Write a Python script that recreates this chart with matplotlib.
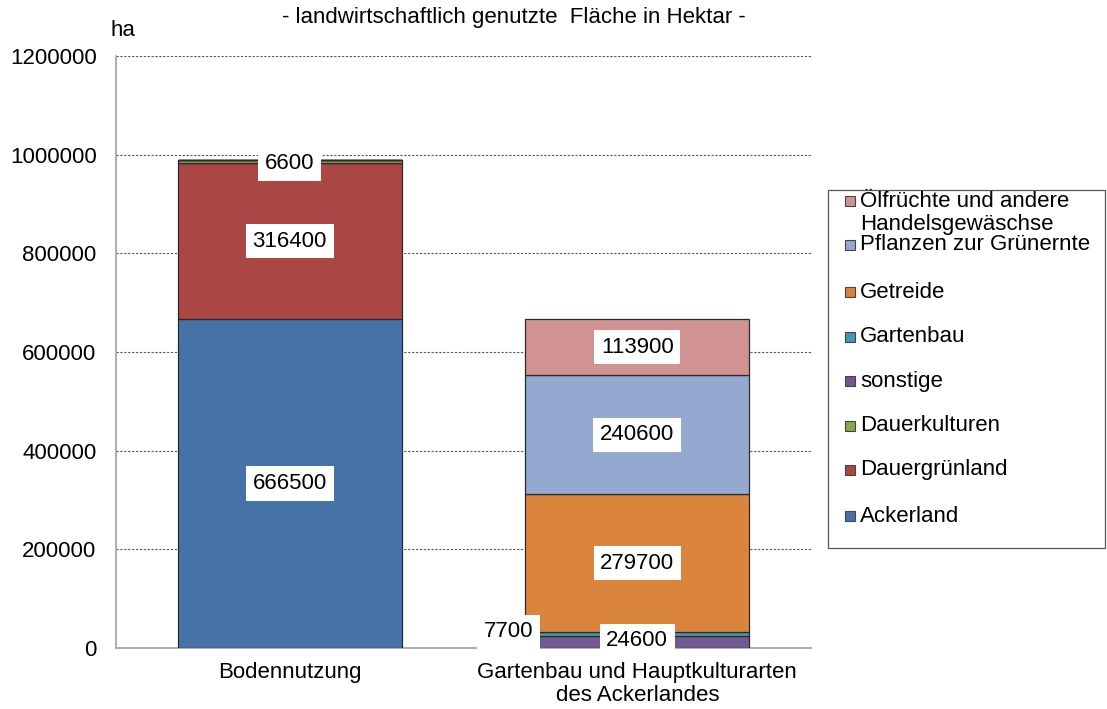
import numpy as np
import matplotlib.pyplot as plt
from matplotlib.patches import Rectangle

plt.rcParams['font.family'] = ['Liberation Sans', 'DejaVu Sans']

# categories (x axis)
categories = ["Bodennutzung", "Gartenbau und Hauptkulturarten\ndes Ackerlandes"]

# series, bottom to top; value per category
series_names = ["Ackerland", "Dauergrünland", "Dauerkulturen",
                "sonstige", "Gartenbau", "Getreide",
                "Pflanzen zur Grünernte", "Ölfrüchte und andere\nHandelsgewäschse"]
series_values = [
    [666500, 0],
    [316400, 0],
    [6600, 0],
    [0, 24600],
    [0, 7700],
    [0, 279700],
    [0, 240600],
    [0, 113900],
]
colors = ["#4572A7", "#AA4643", "#89A54E", "#71588F",
          "#4198AF", "#DB843D", "#93A9CF", "#D19392"]

# legend order top to bottom
legend_order = [7, 6, 5, 4, 3, 2, 1, 0]

fig = plt.figure(figsize=(11.07, 7.09), dpi=100)
ax = fig.add_axes([116 / 1107, 1 - 648 / 709, 695 / 1107, 592 / 709])

x = np.arange(len(categories))
width = 0.645
bottom = np.zeros(len(categories))
bars = []
for name, vals, c in zip(series_names, series_values, colors):
    vals = np.array(vals, dtype=float)
    ax.bar(x, vals, width, bottom=bottom, color=c, edgecolor="#2a2a2a",
           linewidth=0.9, zorder=3)
    bars.append((vals, bottom.copy()))
    bottom += vals

box = dict(boxstyle="square,pad=0.3", facecolor="white", edgecolor="none")
fs = 16

def label(xp, yp, v):
    ax.text(xp, yp, f"{v}", ha="center", va="center", fontsize=fs, bbox=box, zorder=5)

# Bodennutzung labels
vals, bot = bars[0]
label(0, bot[0] + vals[0] / 2, int(vals[0]))
vals, bot = bars[1]
label(0, bot[0] + vals[0] / 2, int(vals[0]))
vals, bot = bars[2]
label(0, bot[0] + vals[0] / 2 - 5000, int(vals[0]))

# second bar labels
vals, bot = bars[3]
label(1, bot[1] + vals[1] / 2 + 2000, int(vals[1]))
vals, bot = bars[4]
label(0.63, bot[1] + vals[1] / 2 + 4000, int(vals[1]))
for i in (5, 6, 7):
    vals, bot = bars[i]
    label(1, bot[1] + vals[1] / 2, int(vals[1]))

ax.set_xlim(-0.5, 1.5)
ax.set_ylim(0, 1200000)
ax.set_yticks(np.arange(0, 1200001, 200000))
ax.set_yticklabels([str(v) for v in range(0, 1200001, 200000)], fontsize=fs)
ax.set_xticks(x)
ax.set_xticklabels(categories, fontsize=fs, linespacing=1.15)
ax.tick_params(axis="both", length=0)
ax.tick_params(axis="y", pad=14)
ax.tick_params(axis="x", pad=10)
ax.yaxis.grid(True, linestyle=(0, (2, 1.5)), color="#555555", linewidth=0.8, zorder=0)
for s in ("top", "right"):
    ax.spines[s].set_visible(False)
for s in ("left", "bottom"):
    ax.spines[s].set_color("#a0a0a0")
    ax.spines[s].set_linewidth(1.2)

fig.text(123 / 1107, 1 - 30 / 709, "ha", fontsize=fs, ha="center", va="center")
fig.text(514 / 1107, 1 - 18 / 709, "- landwirtschaftlich genutzte  Fläche in Hektar -",
         fontsize=16, ha="center", va="center")

# legend drawn by hand to keep Excel-like spacing
W, H = 1107, 709
fig.patches.append(Rectangle((828 / W, 1 - 548 / H), 277 / W, 358 / H,
                             transform=fig.transFigure, facecolor="white",
                             edgecolor="#555555", linewidth=0.9))
ys = [213, 245, 292, 337, 381, 426, 470, 516]
for idx, yy in zip(legend_order, ys):
    sq_y = 201 if idx == 7 else yy
    fig.patches.append(Rectangle((845 / W, 1 - (sq_y + 5) / H), 10 / W, 10 / H,
                                 transform=fig.transFigure, facecolor=colors[idx],
                                 edgecolor="#444444", linewidth=0.8))
    fig.text(860 / W, 1 - yy / H, series_names[idx], fontsize=fs, va="center",
             ha="left", linespacing=1.12)

fig.savefig("out.png", dpi=100)
